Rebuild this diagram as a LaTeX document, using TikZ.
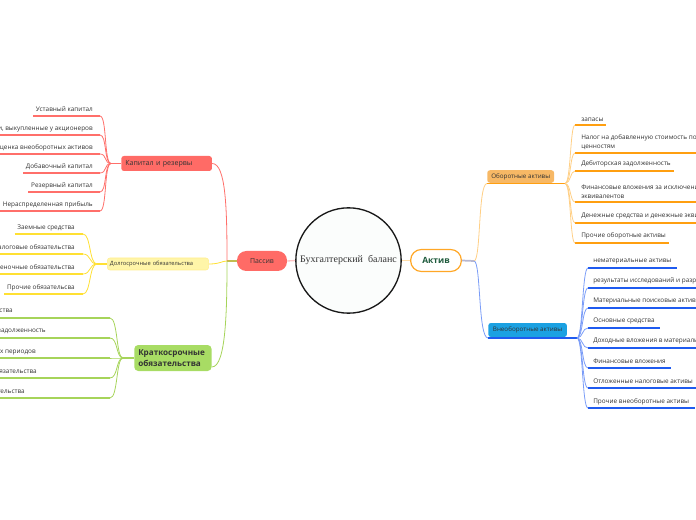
\documentclass[tikz,border=0pt]{standalone}
\usepackage{fontspec}
\setmainfont{Open Sans}
\newfontfamily\centerserif{Liberation Serif}
\definecolor{txt}{HTML}{333333}
\definecolor{redbox}{HTML}{FF6B66}
\definecolor{redln}{HTML}{FF6F6A}
\definecolor{yelbox}{HTML}{FFF5A8}
\definecolor{yelbd}{HTML}{FFEE90}
\definecolor{yelln}{HTML}{FFE033}
\definecolor{grnbox}{HTML}{A8DC64}
\definecolor{grnln}{HTML}{A6D45A}
\definecolor{orbox}{HTML}{F7B865}
\definecolor{orln}{HTML}{FF9F10}
\definecolor{orlight}{HTML}{FFCF85}
\definecolor{blbox}{HTML}{1BA1E2}
\definecolor{blln}{HTML}{1F5BF0}
\definecolor{bllight}{HTML}{7A9CF7}
\definecolor{olivec}{HTML}{C2BC50}
\definecolor{lavc}{HTML}{B7B7D0}
\definecolor{pinkc}{HTML}{FFC4C4}
\definecolor{peachc}{HTML}{FFDCA8}
\definecolor{aktivbd}{HTML}{FFA726}
\definecolor{aktivtx}{HTML}{1E5A3C}
\definecolor{circfill}{HTML}{FBFDFC}
\begin{document}
\begin{tikzpicture}[x=0.75pt,y=-0.75pt,
  item/.style={font=\fontsize{4.8}{6.6}\selectfont, text=txt, inner sep=0pt},
  ul/.style={line width=1.1pt},
  br/.style={line width=0.6pt},
  topbox/.style={inner xsep=3pt, inner ysep=0pt, text=txt, anchor=west, align=left}]
\useasboundingbox (0,0) rectangle (696,520);
\clip (0,0) rectangle (696,520);

% centre and main branches
\node[circle, draw=black!90, line width=1pt, fill=circfill, minimum size=79pt, inner sep=0pt,
  font=\centerserif\fontsize{7.5}{9}\selectfont, text=txt] (c) at (348.5,260.5) {Бухгалтерский\ \ баланс};
\node[rounded corners=7pt, fill=redbox, minimum width=37.5pt, minimum height=15pt, inner sep=0pt,
  font=\fontsize{5.2}{6}\selectfont, text=txt] (pas) at (262,261) {Пассив};
\node[rounded corners=8pt, draw=aktivbd, line width=0.9pt, fill=white, minimum width=38pt, minimum height=16.5pt, inner sep=0pt,
  font=\bfseries\fontsize{6.4}{7}\selectfont, text=aktivtx] (akt) at (436,260.5) {Актив};
\draw[pinkc, line width=1pt] (pas.east) -- (c.west);
\draw[peachc, line width=1pt] (c.east) -- (akt.west);

% passive branches
\coordinate (pj) at (227,261);
\draw[olivec, line width=1.3pt] (pj) -- (pas.west);
\node[topbox, fill=redbox, rounded corners=2pt, text width=62pt, minimum height=11.25pt,
  font=\fontsize{5.3}{6}\selectfont] (kap) at (121,163.5) {Капитал и резервы};
\node[topbox, fill=yelbox, draw=yelbd, rounded corners=2pt, text width=72pt, minimum height=9pt, inner xsep=2pt,
  font=\fontsize{4.3}{5}\selectfont] (dol) at (107,264) {Долгосрочные обязательства};
\node[topbox, fill=grnbox, rounded corners=3pt, text width=52pt, minimum height=19.5pt,
  font=\bfseries\fontsize{6.1}{8}\selectfont] (kra) at (134,358) {Краткосрочные\\обязательства};
\draw[br, redln] (kap.east) .. controls (226,163.5) and (227,210) .. (pj);
\draw[br, yelln] (dol.east) .. controls (220,264) and (222,261) .. (pj);
\draw[br, grnln] (kra.east |- 0,367) .. controls (226,367) and (227,310) .. (pj);

% Капитал и резервы items
\coordinate (kj) at (111,163.5);
\draw[ul, redln] (kj) -- (kap.west);
\foreach \t/\y [count=\i] in {Уставный капитал/116, {Собственные акции, выкупленные у акционеров}/135,
  Переоценка внеоборотных активов/154, Добавочный капитал/173, Резервный капитал/192, Нераспределенная прибыль/211}{
  \node[item, anchor=base east] (k\i) at (93,\y-4.5) {\t};
  \coordinate (k\i r) at (100,\y);
  \draw[ul, redln] ([xshift=-2pt]k\i.west |- k\i r) -- (k\i r);
  \draw[br, redln] (k\i r) .. controls (107,\y) and (104,163.5) .. (kj);
}

% Долгосрочные items
\coordinate (dj) at (97,264);
\draw[ul, yelln] (dj) -- (dol.west);
\foreach \t/\y [count=\i] in {Заемные средства/234, Отложенные налоговые обязательства/254,
  Оценочные обязательства/274, Прочие обязательсва/294}{
  \node[item, anchor=base east] (d\i) at (75,\y-4.5) {\t};
  \coordinate (d\i r) at (83,\y);
  \draw[ul, yelln] ([xshift=-2pt]d\i.west |- d\i r) -- (d\i r);
  \draw[br, yelln] (d\i r) .. controls (91,\y) and (89,264) .. (dj);
}

% Краткосрочные items
\coordinate (cj) at (123,358);
\draw[ul, grnln] (cj) -- (kra.west);
\foreach \t/\y/\xr [count=\i] in {Заемные средства/318/13, Кредиторская задолженность/338/46,
  Доходы будущих периодов/358/36, Оценочные обязательства/378/37, Прочие обязательства/398/25}{
  \node[item, anchor=base east] (s\i) at (\xr,\y-5) {\t};
  \coordinate (s\i r) at (110,\y);
  \draw[ul, grnln] (-5,\y) -- (s\i r);
  \draw[br, grnln] (s\i r) .. controls (118,\y) and (116,358) .. (cj);
}

% active branches
\coordinate (aj) at (474,261);
\draw[lavc, line width=1.3pt] (akt.east) -- (aj);
\node[topbox, fill=orbox, rounded corners=2pt, minimum height=9.4pt, inner xsep=3pt,
  font=\fontsize{4.7}{5}\selectfont] (obo) at (487,176.5) {Оборотные активы};
\node[topbox, fill=blbox, rounded corners=2pt, minimum height=10.5pt, inner xsep=3.5pt,
  font=\fontsize{4.7}{5}\selectfont] (vne) at (488,330) {Внеоборотные активы};
\coordinate (oj) at (565,183.5);
\coordinate (bj) at (577,338);
\draw[br, orlight] (aj) .. controls (481,261) and (478,183.5) .. (obo.west |- oj);
\draw[br, bllight] (aj) .. controls (481,261) and (478,338) .. (vne.west |- bj);
\draw[ul, orln] (obo.west |- oj) -- (oj);
\draw[ul, blln] (vne.west |- bj) -- (bj);

% Оборотные активы items
\foreach \t/\y [count=\i] in {запасы/125, {Налог на добавленную стоимость по приобретенным\\ценностям}/153,
  Дебиторская задолженность/171, {Финансовые вложения за исключением денежных\\эквивалентов}/202,
  Денежные средства и денежные эквиваленты/223, Прочие оборотные активы/243}{
  \node[item, anchor=south west, align=left] (o\i) at (581,\y-3.3) {\t};
  \coordinate (o\i l) at (575,\y);
  \draw[ul, orln] (o\i l) -- ([xshift=2pt]o\i.east |- o\i l);
  \draw[br, orlight] (oj) .. controls (571,183.5) and (570,\y) .. (o\i l);
}

% Внеоборотные активы items
\foreach \t/\y [count=\i] in {нематериальные активы/268, результаты исследований и разработок/288,
  Материальные поисковые активы/308, Основные средства/328, Доходные вложения в материальные ценности/348,
  Финансовые вложения/368, Отложенные налоговые активы/388, Прочие внеоборотные активы/408}{
  \node[item, anchor=base west] (b\i) at (593,\y-5) {\t};
  \coordinate (b\i l) at (588,\y);
  \draw[ul, blln] (b\i l) -- ([xshift=4pt]b\i.east |- b\i l);
  \draw[br, bllight] (bj) .. controls (583,338) and (582,\y) .. (b\i l);
}
\end{tikzpicture}
\end{document}
